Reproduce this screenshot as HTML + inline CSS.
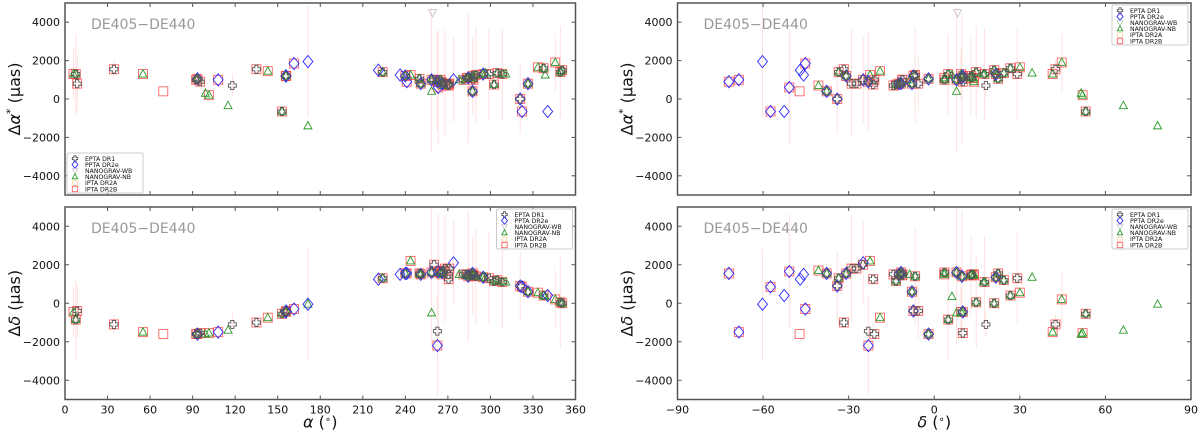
<!DOCTYPE html>
<html><head><meta charset="utf-8">
<style>
html,body{margin:0;padding:0;background:#fff;}
svg{display:block;font-family:"DejaVu Sans","Liberation Sans",sans-serif;}
</style></head>
<body>
<svg id="fig" width="1200" height="434" viewBox="0 0 1200 434" xmlns="http://www.w3.org/2000/svg"></svg>
<script>
// ---- data (per pulsar) ----
const psrRA  = [6.0,7.6,8.6,34.5,55.0,69.3,92.5,93.4,95.3,99.0,101.5,108.0,115.0,118.0,135.0,143.0,153.0,155.7,156.0,161.5,171.3,171.3,221.0,224.0,236.3,240.0,241.0,243.7,250.0,250.9,258.5,258.5,260.3,262.6,262.6,263.2,264.7,265.4,266.0,266.8,268.0,270.4,270.5,271.0,274.0,278.0,281.0,283.5,284.4,285.8,287.4,287.5,287.9,288.0,289.7,294.9,296.6,298.9,302.6,304.9,308.4,310.8,321.0,322.3,326.5,333.5,337.5,338.6,340.4,345.7,349.3,350.6];
const psrDec = [9.4,4.9,-5.6,42.5,41.5,-47.2,-21.0,-2.0,10.0,51.5,52.0,-68.5,66.3,18.1,-31.7,-19.0,53.1,10.0,-7.3,-45.2,-60.2,78.3,-47.0,-33.5,-45.8,-30.9,-72.0,-22.5,22.4,-12.4,7.8,7.8,-25.0,-23.1,-23.1,-50.8,3.6,13.9,-11.6,-40.6,-29.0,-14.3,-21.4,-27.3,-24.9,-8.6,-11.2,13.1,9.7,3.5,-37.7,12.9,-11.2,13.8,-6.7,21.6,34.3,29.1,-13.4,24.4,17.6,17.2,-34.0,-57.4,-7.8,30.0,26.7,6.2,-52.6,44.7,14.7,21.0];
const psrDA  = [1300,1300,800,1550,1300,400,1000,1050,900,300,200,1000,-350,700,1550,1450,-650,1200,1200,1850,1950,-1400,1500,1400,1250,1200,900,1250,1050,800,1000,400,1000,900,900,600,1000,900,800,700,800,700,750,800,1000,1000,1000,1100,1100,1100,400,1200,1000,1100,1250,1300,1350,1300,750,1350,1300,1300,0,-650,800,1650,1600,1250,-650,1900,1400,1500];
const psrDD  = [-450,-850,-400,-1100,-1500,-1600,-1600,-1600,-1550,-1600,-1550,-1500,-1400,-1100,-1000,-750,-550,-450,-400,-300,-50,-50,1250,1300,1500,1550,1550,2200,1550,1500,1600,-500,2000,-2200,-1450,1650,1600,1500,1600,1700,1800,1500,1250,1800,2100,1500,1500,1500,1400,1500,1550,1450,1450,1450,1400,1350,1350,1300,1150,1200,1100,1100,900,850,600,550,400,350,400,200,50,0];
const psrSets= ["NB","ENB","EB","EB","NB","B","EB","EPNB","EB","N","NB","PB","N","E","EB","NB","ENB","EPNB","EPB","PB","P","N","P","ENB","P","EPNB","PB","NB","ENB","EPNB","EPNB","N","EB","PB","E","PB","ENB","NB","EPNB","NB","EB","EB","EB","EB","P","N","EB","ENB","EPNB","NB","EPNB","ENB","EB","NB","ENB","EPNB","N","EB","ENB","ENB","ENB","N","EPB","PB","EPNB","NB","ENB","N","P","NB","ENB","ENB"];
// faint error bars (μas half-length)
const errIdx = [0,1,2,3,13,20,30,33,35,40,44,48,51,54,57,60,62,69,70];
const errLen = [1300,2100,1400,500,600,2900,3800,2600,3000,2800,2200,3400,2000,2500,2400,2400,1800,1500,2400];

const series = [
  {code:"E",label:"EPTA DR1"},
  {code:"P",label:"PPTA DR2e"},
  {code:"W",label:"NANOGRAV-WB"},
  {code:"N",label:"NANOGRAV-NB"},
  {code:"A",label:"IPTA DR2A"},
  {code:"B",label:"IPTA DR2B"}
];

const NS="http://www.w3.org/2000/svg";
const svg=document.getElementById('fig');
function el(tag,attrs,parent){const e=document.createElementNS(NS,tag);for(const k in attrs)e.setAttribute(k,attrs[k]);(parent||svg).appendChild(e);return e;}

function marker(g,code,x,y,s){
  let m;
  if(code==="B"){m=el('rect',{x:x-s,y:y-s,width:2*s,height:2*s,fill:'none',stroke:'#ff3030','stroke-width':0.9,'stroke-opacity':0.75},g);}
  else if(code==="P"){m=el('path',{d:`M${x} ${y-s*1.35}L${x+s*1.1} ${y}L${x} ${y+s*1.35}L${x-s*1.1} ${y}Z`,fill:'none',stroke:'#2a2aff','stroke-width':0.9},g);}
  else if(code==="N"){m=el('path',{d:`M${x} ${y-s*1.1}L${x+s} ${y+s*0.75}L${x-s} ${y+s*0.75}Z`,fill:'none',stroke:'#2a9a2a','stroke-width':0.9},g);}
  else if(code==="W"){m=el('path',{d:`M${x} ${y+s*1.1}L${x+s} ${y-s*0.75}L${x-s} ${y-s*0.75}Z`,fill:'none',stroke:'#c8c8c8','stroke-width':0.9},g);}
  else if(code==="A"){m=el('circle',{cx:x,cy:y,r:s,fill:'none',stroke:'#ffd2a0','stroke-width':0.9},g);}
  else {const a=s*0.4,b=s;m=el('path',{d:`M${x-a} ${y-b}H${x+a}V${y-a}H${x+b}V${y+a}H${x+a}V${y+b}H${x-a}V${y+a}H${x-b}V${y-a}H${x-a}Z`,fill:'none',stroke:'#555','stroke-width':0.9},g);}
  return m;
}

function panel(opt){
  const {x0,x1,y0,y1,xmin,xmax,xticks,xcoord,ycoord,ylab,xlab,legendPos,pname,showWB}=opt;
  const g=el('g',{});
  
  
  const X=v=>x0+(v-xmin)/(xmax-xmin)*(x1-x0);
  const Y=v=>y0+(5000-v)/10000*(y1-y0);
  const eg=el('g',{},g);
  
  
  errIdx.forEach((i,k)=>{
    const xv=X(xcoord[i]);const yv=ycoord[i];
    const top=Math.max(y0,Y(yv+errLen[k])),bot=Math.min(y1,Y(yv-errLen[k]));
    const ln=el('line',{x1:xv,x2:xv,y1:top,y2:bot,stroke:'#ffc4c4','stroke-width':1,'stroke-opacity':0.5},eg);
    
    
  });
  if(showWB){
    const wb=marker(g,"W",X(xcoord[30])+1,Y(4500),4);
    
    
  }
  ["B","N","P","E"].forEach(code=>{
    const sg=el('g',{},g);
    
    
    for(let i=0;i<xcoord.length;i++){
      if(psrSets[i].indexOf(code)<0)continue;
      const m=marker(sg,code,X(xcoord[i]),Y(ycoord[i]),code==="B"?4.5:(code==="P"?4.5:4));
      
      
    }
  });
  const fr=el('rect',{x:x0,y:y0,width:x1-x0,height:y1-y0,fill:'none',stroke:'#555','stroke-width':1.5},g);
  
  
  [-4000,-2000,0,2000,4000].forEach(v=>{
    const yy=Y(v);
    el('line',{x1:x0,x2:x0+4,y1:yy,y2:yy,stroke:'#555'},g);
    el('line',{x1:x1,x2:x1-4,y1:yy,y2:yy,stroke:'#555'},g);
    const t=el('text',{x:x0-5,y:yy+4,'text-anchor':'end','font-size':11,fill:'#111'},g);
    t.textContent=(v<0?'\u2212'+(-v):v);
    
    
  });
  xticks.forEach(v=>{
    const xx=X(v);
    el('line',{x1:xx,x2:xx,y1:y0,y2:y0+4,stroke:'#555'},g);
    el('line',{x1:xx,x2:xx,y1:y1,y2:y1-4,stroke:'#555'},g);
    if(xlab){
      const t=el('text',{x:xx,y:y1+14,'text-anchor':'middle','font-size':11,fill:'#111'},g);
      t.textContent=(v<0?'\u2212'+(-v):v);
      
      
    }
  });
  const yc=(y0+y1)/2, yt=el('text',{x:0,y:0,transform:`translate(${x0-45},${yc}) rotate(-90)`,'text-anchor':'middle','font-size':16,fill:'#111'},g);
  yt.innerHTML=ylab;
  
  
  if(xlab){
    const xt=el('text',{x:(x0+x1)/2,y:y1+28,'text-anchor':'middle','font-size':16,fill:'#111'},g);
    xt.innerHTML=xlab;
    
    
  }
  const an=el('text',{x:x0+26,y:y0+26,'font-size':14,fill:'#999'},g);
  an.textContent='DE405\u2212DE440';
  
  
  const lw=76,lh=40;
  const lx=legendPos==="ll"?x0+2:x1-lw-3, ly=legendPos==="ll"?y1-lh-2:y0+2;
  const lg=el('g',{},g);
  
  
  el('rect',{x:lx,y:ly,width:lw,height:lh,fill:'#fff','fill-opacity':0.85,stroke:'#ccc','stroke-width':1,rx:1.5},lg);
  series.forEach((s,k)=>{
    const ey=ly+5.5+k*6.1;
    const m=marker(lg,s.code,lx+8,ey,2.7);
    
    
    const t=el('text',{x:lx+18,y:ey+2.3,'font-size':6.2,fill:'#111'},lg);
    t.textContent=s.label;
    
    
  });
}

const raT=[0,30,60,90,120,150,180,210,240,270,300,330,360];
const decT=[-90,-60,-30,0,30,60,90];
const yA='\u0394<tspan font-style="italic">\u03b1</tspan><tspan dy="-6" font-size="11">*</tspan><tspan dy="6"> (\u00b5as)</tspan>';
const yD='\u0394<tspan font-style="italic">\u03b4</tspan> (\u00b5as)';
panel({pname:'panel-dalpha-vs-ra',x0:65,x1:575.5,y0:3,y1:195,xmin:0,xmax:360,xticks:raT,xcoord:psrRA,ycoord:psrDA,ylab:yA,xlab:null,legendPos:"ll",showWB:true});
panel({pname:'panel-ddelta-vs-ra',x0:65,x1:575.5,y0:207,y1:399.5,xmin:0,xmax:360,xticks:raT,xcoord:psrRA,ycoord:psrDD,ylab:yD,xlab:'<tspan font-style="italic">\u03b1</tspan> (<tspan dy="-5" font-size="10">\u2218</tspan><tspan dy="5">)</tspan>',legendPos:"ur",showWB:false});
panel({pname:'panel-dalpha-vs-dec',x0:677.5,x1:1191,y0:3,y1:195,xmin:-90,xmax:90,xticks:decT,xcoord:psrDec,ycoord:psrDA,ylab:yA,xlab:null,legendPos:"ur",showWB:true});
panel({pname:'panel-ddelta-vs-dec',x0:677.5,x1:1191,y0:207,y1:399.5,xmin:-90,xmax:90,xticks:decT,xcoord:psrDec,ycoord:psrDD,ylab:yD,xlab:'<tspan font-style="italic">\u03b4</tspan> (<tspan dy="-5" font-size="10">\u2218</tspan><tspan dy="5">)</tspan>',legendPos:"ur",showWB:false});
</script>
</body></html>
